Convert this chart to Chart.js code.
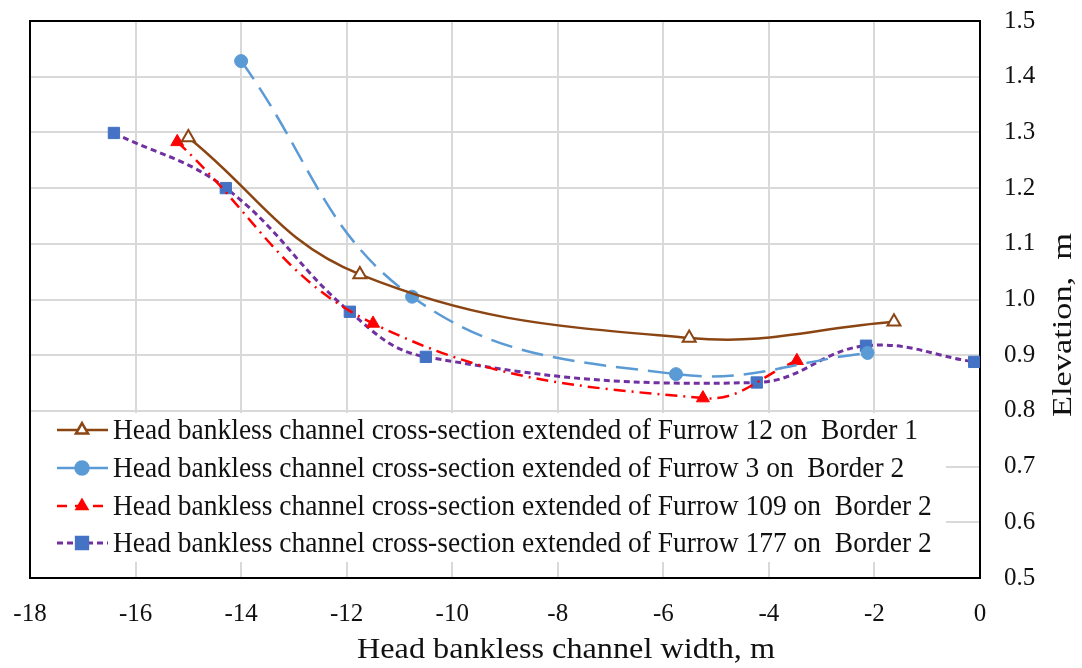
<!DOCTYPE html>
<html>
<head>
<meta charset="utf-8">
<script src="https://cdn.jsdelivr.net/npm/chart.js@4/dist/chart.umd.min.js"></script>
<style>
  html, body { margin: 0; padding: 0; background: #fff; }
  #wrap { width: 1082px; height: 668px; }
</style>
</head>
<body>
<div id="wrap"><canvas id="elevChart" width="1082" height="668"></canvas></div>
<script>
// Series (x = channel width in m, y = elevation in m)
var furrow12X = [-15.0, -11.75, -5.51, -1.63];
var furrow12Y = [1.291, 1.045, 0.931, 0.960];

var furrow3X = [-14.0, -10.76, -5.76, -2.13];
var furrow3Y = [1.428, 1.005, 0.866, 0.904];

var furrow109X = [-15.21, -11.5, -5.25, -3.47];
var furrow109Y = [1.283, 0.957, 0.823, 0.890];

var furrow177X = [-16.41, -14.29, -11.94, -10.5, -4.23, -2.16, -0.11];
var furrow177Y = [1.299, 1.200, 0.978, 0.897, 0.851, 0.917, 0.888];

var seriesLabels = [
    'Head bankless channel cross-section extended of Furrow 12 on  Border 1',
    'Head bankless channel cross-section extended of Furrow 3 on  Border 2',
    'Head bankless channel cross-section extended of Furrow 109 on  Border 2',
    'Head bankless channel cross-section extended of Furrow 177 on  Border 2'
];

var xTitle = 'Head bankless channel width, m';
var yTitle = 'Elevation,  m';

var serif = '"Liberation Serif", "Times New Roman", serif';

function toPoints(xs, ys) {
    return xs.map(function (x, i) { return { x: x, y: ys[i] }; });
}

// text squeezed/stretched along its own direction to a given length
function fitText(ctx, text, cx, cy, len, angle) {
    ctx.save();
    ctx.translate(cx, cy);
    ctx.rotate(angle);
    ctx.scale(len / ctx.measureText(text).width, 1);
    ctx.fillText(text, 0, 0);
    ctx.restore();
}

// Draws the plot frame, the inside legend and both axis titles
var decorations = {
    id: 'decorations',
    beforeDatasetsDraw: function (chart) {
        var a = chart.chartArea;
        var ctx = chart.ctx;
        ctx.save();
        ctx.strokeStyle = '#000';
        ctx.lineWidth = 2;
        ctx.strokeRect(a.left, a.top, a.right - a.left, a.bottom - a.top);
        ctx.restore();
    },
    afterDraw: function (chart) {
        var a = chart.chartArea;
        var ctx = chart.ctx;
        ctx.save();

        // legend box inside the plot, bottom-left
        ctx.fillStyle = '#fff';
        ctx.fillRect(a.left + 1, 413, 945 - a.left, 562 - 413);

        var rowY = [430, 468, 506, 543];
        ctx.font = '29px ' + serif;
        var squeeze = 805 / ctx.measureText(seriesLabels[0]).width;
        chart.data.datasets.forEach(function (ds, i) {
            var y = rowY[i];
            ctx.save();
            ctx.strokeStyle = ds.borderColor;
            ctx.lineWidth = ds.borderWidth;
            ctx.setLineDash(ds.legendDash || ds.borderDash || []);
            ctx.beginPath();
            ctx.moveTo(57, y);
            ctx.lineTo(108, y);
            ctx.stroke();
            ctx.setLineDash([]);
            ctx.fillStyle = ds.pointBackgroundColor;
            ctx.strokeStyle = ds.pointBorderColor;
            Chart.helpers.drawPoint(ctx, {
                pointStyle: ds.pointStyle,
                radius: ds.legendRadius,
                borderWidth: ds.pointBorderWidth,
                rotation: 0
            }, 82, y);
            ctx.restore();

            ctx.save();
            ctx.fillStyle = '#111';
            ctx.textAlign = 'left';
            ctx.textBaseline = 'middle';
            ctx.translate(113, y + 1);
            ctx.scale(squeeze, 1);
            ctx.fillText(ds.label, 0, 0);
            ctx.restore();
        });

        // axis titles
        ctx.fillStyle = '#111';
        ctx.textAlign = 'center';
        ctx.textBaseline = 'middle';
        ctx.font = '30px ' + serif;
        fitText(ctx, xTitle, 566, 650, 418, 0);
        ctx.font = '27px ' + serif;
        fitText(ctx, yTitle, 1064, 325, 184, -Math.PI / 2);
        ctx.restore();
    }
};

var ctx = document.getElementById('elevChart').getContext('2d');

var elevChart = new Chart(ctx, {
    type: 'scatter',
    data: {
        datasets: [{
            label: seriesLabels[0],
            data: toPoints(furrow12X, furrow12Y),
            showLine: true,
            tension: 0.4,
            borderColor: '#8B4513',
            borderWidth: 2.5,
            pointStyle: 'triangle',
            pointRadius: 7.5,
            legendRadius: 7,
            pointBorderWidth: 2,
            pointBorderColor: '#8B4513',
            pointBackgroundColor: '#fff'
        }, {
            label: seriesLabels[1],
            data: toPoints(furrow3X, furrow3Y),
            showLine: true,
            tension: 0.4,
            borderColor: '#5B9BD5',
            borderWidth: 2.5,
            borderDash: [22, 10],
            legendDash: [],
            pointStyle: 'circle',
            pointRadius: 6.5,
            legendRadius: 6.5,
            pointBorderWidth: 1,
            pointBorderColor: '#5B9BD5',
            pointBackgroundColor: '#5B9BD5'
        }, {
            label: seriesLabels[2],
            data: toPoints(furrow109X, furrow109Y),
            showLine: true,
            tension: 0.4,
            borderColor: '#FF0000',
            borderWidth: 2.5,
            borderDash: [12, 6, 2, 6],
            legendDash: [10, 8],
            pointStyle: 'triangle',
            pointRadius: 7.5,
            legendRadius: 6,
            pointBorderWidth: 1,
            pointBorderColor: '#FF0000',
            pointBackgroundColor: '#FF0000'
        }, {
            label: seriesLabels[3],
            data: toPoints(furrow177X, furrow177Y),
            showLine: true,
            tension: 0.4,
            borderColor: '#7030A0',
            borderWidth: 3,
            borderDash: [6, 4],
            pointStyle: 'rect',
            pointRadius: 8,
            legendRadius: 8,
            pointBorderWidth: 1,
            pointBorderColor: '#4472C4',
            pointBackgroundColor: '#4472C4'
        }]
    },
    options: {
        responsive: false,
        animation: false,
        layout: {
            padding: { left: 30, top: 21, right: 0, bottom: 0 }
        },
        scales: {
            x: {
                type: 'linear',
                min: -18,
                max: 0,
                afterFit: function (scale) {
                    scale.height = 90;
                    scale.paddingLeft = 0;
                    scale.paddingRight = 0;
                },
                border: { display: false },
                grid: { color: '#d9d9d9', lineWidth: 2, drawTicks: false },
                ticks: {
                    stepSize: 2,
                    autoSkip: false,
                    maxRotation: 0,
                    padding: 21,
                    color: '#111',
                    font: { family: serif, size: 25 }
                }
            },
            y: {
                type: 'linear',
                position: 'right',
                min: 0.5,
                max: 1.5,
                afterFit: function (scale) {
                    scale.width = 102;
                    scale.paddingTop = 0;
                    scale.paddingBottom = 0;
                },
                border: { display: false },
                grid: { color: '#d9d9d9', lineWidth: 2, drawTicks: false },
                ticks: {
                    stepSize: 0.1,
                    padding: 24,
                    color: '#111',
                    font: { family: serif, size: 25 },
                    callback: function (v) { return v.toFixed(1); }
                }
            }
        },
        plugins: {
            legend: { display: false },
            title: { display: false },
            tooltip: { enabled: false }
        }
    },
    plugins: [decorations]
});
</script>
</body>
</html>
